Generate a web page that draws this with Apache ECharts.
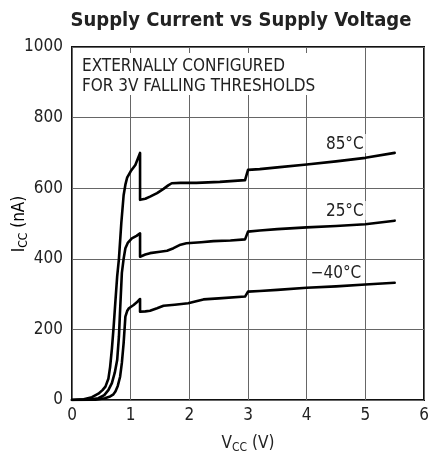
<!DOCTYPE html>
<html>
<head>
<meta charset="utf-8">
<script src="https://cdn.jsdelivr.net/npm/echarts@6/dist/echarts.min.js"></script>
<style>
  html, body { margin: 0; padding: 0; background: #fff; }
  #chart { width: 429px; height: 458px; }
</style>
</head>
<body>
<div id="chart"></div>
<script>
// values (Vcc in V, Icc in nA)
var vcc85 = [0, 0.2, 0.34, 0.45, 0.52, 0.57, 0.62, 0.65, 0.68, 0.71, 0.74, 0.77, 0.80, 0.84, 0.88, 0.91, 0.94, 1.0, 1.08, 1.16, 1.16, 1.25, 1.33, 1.45, 1.56, 1.64, 1.70, 1.85, 2.12, 2.52, 2.95, 3.0, 3.2, 3.5, 4.0, 4.5, 5.0, 5.5];
var icc85 = [0, 2, 8, 18, 28, 38, 60, 94, 145, 208, 280, 350, 400, 500, 580, 610, 630, 648, 666, 700, 567, 570, 576, 586, 598, 608, 614, 615, 615, 618, 623, 652, 654, 659, 667, 676, 686, 700];

var vcc25 = [0, 0.3, 0.45, 0.55, 0.62, 0.68, 0.73, 0.77, 0.80, 0.82, 0.85, 0.88, 0.91, 0.95, 1.02, 1.10, 1.16, 1.16, 1.25, 1.33, 1.5, 1.62, 1.73, 1.85, 1.95, 2.2, 2.41, 2.7, 2.95, 3.0, 3.2, 3.5, 4.0, 4.5, 5.0, 5.5];
var icc25 = [0, 1, 5, 14, 28, 48, 78, 113, 180, 255, 360, 400, 430, 445, 458, 465, 472, 406, 412, 416, 420, 423, 430, 440, 444, 447, 450, 452, 455, 477, 480, 484, 489, 493, 498, 508];

var vccM40 = [0, 0.4, 0.56, 0.65, 0.70, 0.74, 0.78, 0.82, 0.85, 0.88, 0.91, 0.94, 0.97, 1.05, 1.10, 1.16, 1.16, 1.25, 1.33, 1.45, 1.56, 1.75, 1.98, 2.1, 2.24, 2.5, 2.95, 3.0, 3.2, 3.5, 4.0, 4.5, 5.0, 5.5];
var iccM40 = [0, 1, 5, 10, 15, 24, 40, 66, 105, 161, 236, 252, 260, 269, 276, 286, 250, 251, 253, 260, 267, 270, 274, 279, 285, 288, 293, 307, 309, 312, 318, 322, 327, 332];

var seriesNames = ['85°C', '25°C', '−40°C'];
var labelAt = [[4.65, 690], [4.65, 500], [4.5, 325]];
var yTicks = [0, 200, 400, 600, 800, 1000];
var xTicks = [0, 1, 2, 3, 4, 5, 6];

var font = '"Liberation Sans Narrow", "DejaVu Sans Condensed", "Liberation Sans", sans-serif';

function pairs(xs, ys) {
  return xs.map(function (x, i) { return [x, ys[i]]; });
}

function curve(name, xs, ys, lab) {
  return {
    name: name,
    type: 'line',
    data: pairs(xs, ys),
    showSymbol: false,
    symbol: 'none',
    smooth: false,
    z: 3,
    lineStyle: { color: '#000', width: 2.6, join: 'round', cap: 'round' },
    markPoint: {
      symbol: 'rect',
      symbolSize: 1,
      silent: true,
      itemStyle: { color: 'rgba(0,0,0,0)' },
      data: [{ coord: lab, value: name }],
      label: {
        show: true,
        position: 'top',
        distance: 3,
        formatter: name,
        fontFamily: font,
        fontSize: 17,
        color: '#222',
        backgroundColor: '#fff',
        padding: [2, 2, 0, 2]
      }
    }
  };
}

var subRich = {
  m: { fontFamily: font, fontSize: 17, color: '#222' },
  s: { fontFamily: font, fontSize: 12, color: '#222', verticalAlign: 'bottom', padding: [8, 0, 0, 0] }
};

var chart = echarts.init(document.getElementById('chart'));
chart.setOption({
  animation: false,
  title: {
    text: 'Supply Current vs Supply Voltage',
    left: 236,
    textAlign: 'center',
    top: 6,
    textStyle: { fontFamily: font, fontWeight: 'bold', fontSize: 20, color: '#222' }
  },
  grid: {
    left: 72, right: 5, top: 47, bottom: 58,
    outerBoundsMode: 'none',
    containLabel: false,
    show: true, borderColor: '#111', borderWidth: 2, backgroundColor: 'transparent'
  },
  xAxis: {
    type: 'value',
    min: 0, max: 6, interval: 1,
    axisLine: { show: false },
    axisTick: { show: false },
    splitLine: { show: true, lineStyle: { color: '#666', width: 1 } },
    axisLabel: {
      fontFamily: font, fontSize: 17, color: '#222', margin: 7,
      formatter: function (v) { return xTicks.indexOf(v) >= 0 ? String(v) : ''; }
    },
    name: '{m|V}{s|CC}{m| (V)}',
    nameLocation: 'middle',
    nameGap: 34,
    nameTextStyle: { rich: subRich }
  },
  yAxis: {
    type: 'value',
    min: 0, max: 1000, interval: 200,
    axisLine: { show: false },
    axisTick: { show: false },
    splitLine: { show: true, lineStyle: { color: '#666', width: 1 } },
    axisLabel: {
      fontFamily: font, fontSize: 17, color: '#222', margin: 9,
      formatter: function (v) { return yTicks.indexOf(v) >= 0 ? String(v) : ''; }
    }
  },
  graphic: [
    {
      type: 'rect', z: 5,
      shape: { x: 73, y: 53, width: 255, height: 42 },
      style: { fill: '#fff' }
    },
    {
      type: 'text', z: 6, left: 82, top: 57,
      style: {
        text: 'EXTERNALLY CONFIGURED\nFOR 3V FALLING THRESHOLDS',
        fontFamily: font, fontSize: 17, lineHeight: 20, fill: '#222'
      }
    },
    {
      // y axis title, drawn separately so it sits where the reference has it
      type: 'text', z: 6, x: 20, y: 224, rotation: Math.PI / 2,
      style: {
        text: '{m|I}{s|CC}{m| (nA)}',
        rich: subRich,
        align: 'center',
        verticalAlign: 'middle'
      }
    }
  ],
  series: [
    curve(seriesNames[0], vcc85, icc85, labelAt[0]),
    curve(seriesNames[1], vcc25, icc25, labelAt[1]),
    curve(seriesNames[2], vccM40, iccM40, labelAt[2])
  ]
});
</script>
</body>
</html>
